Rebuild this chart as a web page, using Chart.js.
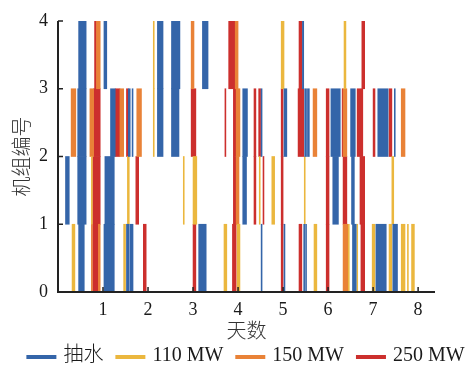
<!DOCTYPE html>
<html>
<head>
<meta charset="utf-8">
<script src="https://cdn.jsdelivr.net/npm/chart.js@4.4.1/dist/chart.umd.min.js"></script>
<style>
  body { margin: 0; background: #fff; }
  #wrap { width: 468px; height: 365px; }
</style>
</head>
<body>
<div id="wrap"><canvas id="chart" width="468" height="365"></canvas></div>
<script>
// every segment: [unit, start hour, end hour]
const pumpSegs = [
  [4, 11, 15], [4, 24.5, 26], [4, 53, 56], [4, 60.5, 65], [4, 77, 80], [4, 130.3, 131],
  [3, 10.5, 15], [3, 28, 30.5], [3, 37.5, 38.5], [3, 39.5, 40], [3, 53, 56], [3, 60.5, 64.5],
  [3, 98.5, 101], [3, 108.3, 108.8], [3, 120.5, 122], [3, 131.5, 132.5], [3, 133, 134],
  [3, 145.5, 150.5], [3, 156, 158.5], [3, 170.5, 176], [3, 179.3, 179.8],
  [2, 4, 6], [2, 10.5, 15], [2, 25, 30], [2, 98.5, 100.5], [2, 146.5, 149.5], [2, 156.5, 158],
  [1, 11, 14], [1, 24.5, 30], [1, 36.5, 38], [1, 38.5, 40], [1, 75, 79], [1, 108.3, 108.8],
  [1, 120.5, 121], [1, 131, 131.5], [1, 132, 132.5], [1, 157, 159], [1, 169.5, 175], [1, 178.5, 181]
];
const mw110Segs = [
  [4, 50.8, 51.3], [4, 119, 120.5], [4, 152.5, 153.5],
  [3, 50.8, 51.3],
  [2, 17.8, 18.3], [2, 37, 38], [2, 66.8, 67.3], [2, 72, 74], [2, 107.3, 107.8], [2, 114, 115.5],
  [2, 131.3, 131.8], [2, 178, 179],
  [1, 7.5, 9], [1, 35, 36], [1, 88.5, 90], [1, 95.5, 97], [1, 136.5, 138], [1, 154.8, 155.3],
  [1, 159.3, 159.8], [1, 167.5, 169], [1, 176.5, 178], [1, 183, 185], [1, 186.3, 186.8], [1, 188.5, 190]
];
const mw150Segs = [
  [4, 20.5, 22.5], [4, 71, 72.5], [4, 94.5, 96],
  [3, 7, 9.5], [3, 17, 19], [3, 33, 35], [3, 42, 44.5], [3, 95, 97], [3, 136, 138], [3, 152, 154], [3, 183, 185],
  [2, 95, 96.5],
  [1, 17.8, 18.3], [1, 21.5, 22.5], [1, 152, 154.5]
];
const mw250Segs = [
  [4, 19.5, 20.5], [4, 91, 94.5], [4, 128.5, 130], [4, 162, 163.5],
  [3, 19, 22.5], [3, 30.5, 33], [3, 36.5, 37.5], [3, 71, 73.5], [3, 89, 89.5], [3, 93.5, 95],
  [3, 104.5, 105.5], [3, 107, 108], [3, 119, 120], [3, 128, 131], [3, 143, 144.5], [3, 151.5, 152],
  [3, 159.5, 162.5], [3, 168, 169], [3, 176.5, 178],
  [2, 18.5, 22.5], [2, 41.5, 43], [2, 93.5, 95], [2, 104.5, 105.5], [2, 109.3, 109.8], [2, 119, 120],
  [2, 143, 144.5], [2, 152, 154], [2, 161, 163.5],
  [1, 18.5, 21.5], [1, 45.5, 47], [1, 72, 73.5], [1, 93, 95], [1, 119, 120], [1, 128.5, 130],
  [1, 143, 144.5], [1, 161.5, 163.5]
];
const seriesNames = ["抽水", "110 MW", "150 MW", "250 MW"];
const seriesColors = ["#3465a9", "#ebb73e", "#e98237", "#cc2f2d"];
const xTicks = [1, 2, 3, 4, 5, 6, 7, 8];
const yTicks = [0, 1, 2, 3, 4];
const xMax = 201 / 24; // days

const FONT = "'Liberation Serif', 'Noto Sans CJK SC', serif";
const TEXT = "#1a1a1a";

// hours -> days, one bar per segment spanning the unit's row
function toBars(segs) {
  return segs.map(([unit, start, end]) => ({ y: unit - 0.5, x: [start / 24, end / 24] }));
}

// axis lines and inward tick marks, drawn over the bars
const axisPlugin = {
  id: "axisPlugin",
  afterDatasetsDraw(chart) {
    const { ctx, chartArea: area, scales: { x, y } } = chart;
    ctx.save();
    ctx.strokeStyle = "#222";
    ctx.lineWidth = 1.5;
    ctx.beginPath();
    xTicks.forEach(v => {
      const px = x.getPixelForValue(v);
      ctx.moveTo(px, area.bottom);
      ctx.lineTo(px, area.bottom - 5);
    });
    yTicks.forEach(v => {
      const py = y.getPixelForValue(v);
      ctx.moveTo(area.left, py);
      ctx.lineTo(area.left + 5, py);
    });
    ctx.stroke();
    ctx.lineWidth = 2;
    ctx.beginPath();
    ctx.moveTo(area.left, area.top);
    ctx.lineTo(area.left, area.bottom);
    ctx.lineTo(area.right, area.bottom);
    ctx.stroke();
    ctx.restore();
  }
};

// legend row under the axis title
const legendPlugin = {
  id: "legendPlugin",
  afterDraw(chart) {
    const { ctx, chartArea: area } = chart;
    const lineLen = 30, gap = 7, itemGap = 12, yMid = 356;
    ctx.save();
    ctx.font = "300 20px " + FONT;
    const widths = seriesNames.map(n => lineLen + gap + ctx.measureText(n).width);
    const total = widths.reduce((a, b) => a + b, 0) + itemGap * (widths.length - 1);
    let cx = (area.left + area.right) / 2 - total / 2 - 1;
    ctx.textBaseline = "middle";
    ctx.fillStyle = TEXT;
    seriesNames.forEach((name, i) => {
      ctx.strokeStyle = seriesColors[i];
      ctx.lineWidth = 4;
      ctx.beginPath();
      ctx.moveTo(cx, yMid + 1);
      ctx.lineTo(cx + lineLen, yMid + 1);
      ctx.stroke();
      ctx.fillText(name, cx + lineLen + gap, yMid);
      cx += widths[i] + itemGap;
    });
    ctx.restore();
  }
};

document.addEventListener("DOMContentLoaded", () => {
  const ctx = document.getElementById("chart").getContext("2d");
  const allSegs = [pumpSegs, mw110Segs, mw150Segs, mw250Segs];

  new Chart(ctx, {
    type: "bar",
    data: {
      datasets: allSegs.map((segs, i) => ({
        label: seriesNames[i],
        data: toBars(segs),
        backgroundColor: seriesColors[i],
        borderWidth: 0,
        barPercentage: 1,
        categoryPercentage: 1,
        grouped: false
      }))
    },
    options: {
      indexAxis: "y",
      responsive: false,
      animation: false,
      layout: { padding: { top: 21, right: 33, bottom: 20, left: 0 } },
      plugins: {
        legend: { display: false },
        tooltip: { enabled: false }
      },
      scales: {
        x: {
          type: "linear",
          min: 0,
          max: xMax,
          grid: { display: false, drawTicks: false },
          border: { display: false },
          afterBuildTicks: s => { s.ticks = xTicks.map(v => ({ value: v })); },
          afterFit: s => { s.height = 53; },
          ticks: { padding: 7, color: TEXT, font: { family: FONT, size: 18 } },
          title: {
            display: true,
            text: "天数",
            color: "#333",
            padding: 0,
            font: { family: FONT, size: 20, weight: "300" }
          }
        },
        y: {
          type: "linear",
          min: 0,
          max: 4,
          offset: false,
          grid: { display: false, drawTicks: false, offset: false },
          border: { display: false },
          afterBuildTicks: s => { s.ticks = yTicks.map(v => ({ value: v })); },
          afterFit: s => { s.width = 58; },
          ticks: { padding: 10, color: TEXT, font: { family: FONT, size: 18 } },
          title: {
            display: true,
            text: "机组编号",
            color: "#333",
            padding: { top: 12 },
            font: { family: FONT, size: 20, weight: "300" }
          }
        }
      }
    },
    plugins: [axisPlugin, legendPlugin]
  });
});
</script>
</body>
</html>
